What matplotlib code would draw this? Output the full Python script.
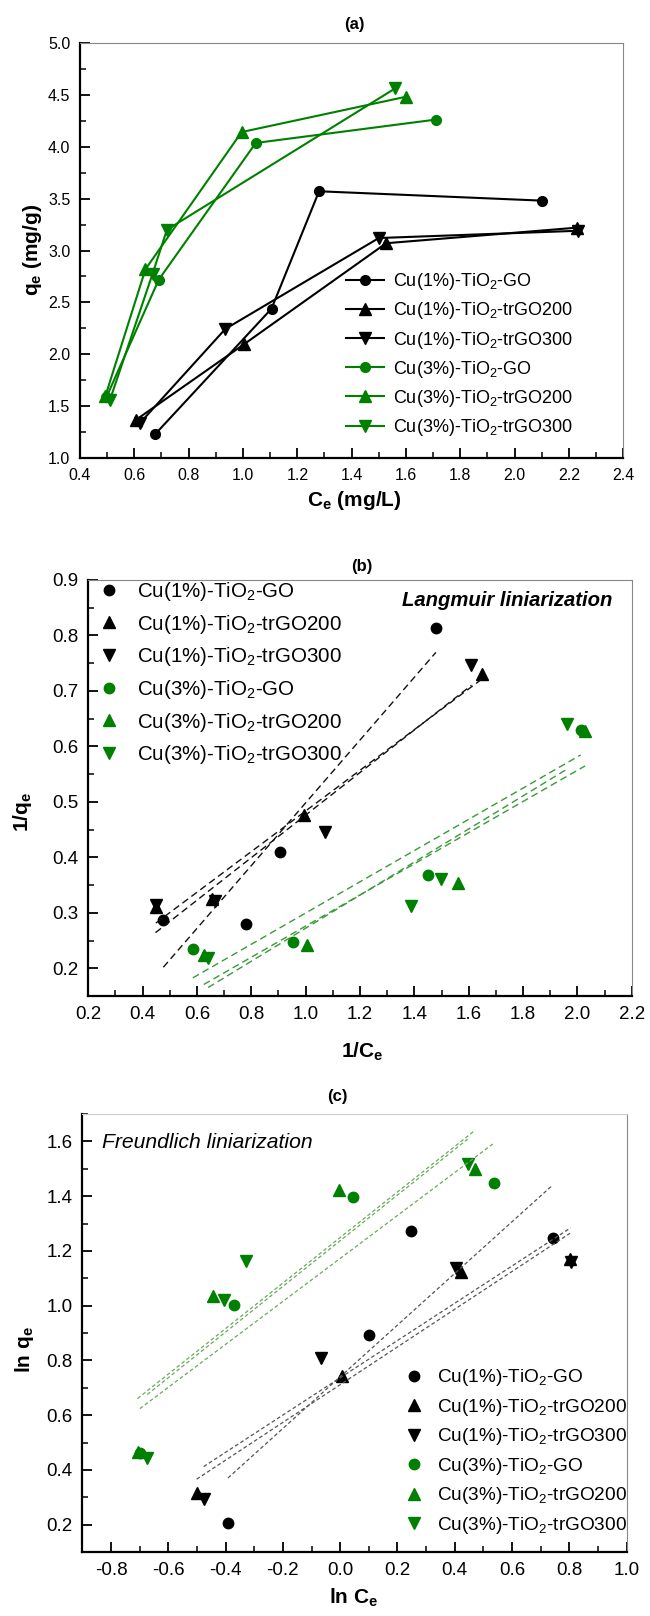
import numpy as np
import matplotlib
matplotlib.use("Agg")
import matplotlib.pyplot as plt
from matplotlib.ticker import MultipleLocator

# fonts: Arial-like text, subscripts through mathtext in the same family
plt.rcParams['font.family'] = ['Liberation Sans', 'DejaVu Sans']
plt.rcParams['mathtext.fontset'] = 'custom'
plt.rcParams['mathtext.rm'] = 'Liberation Sans'
plt.rcParams['mathtext.it'] = 'Liberation Sans:italic'
plt.rcParams['mathtext.bf'] = 'Liberation Sans:bold'

# ---------------------------------------------------------------- data
labels = ['Cu(1%)-TiO$_2$-GO', 'Cu(1%)-TiO$_2$-trGO200', 'Cu(1%)-TiO$_2$-trGO300',
          'Cu(3%)-TiO$_2$-GO', 'Cu(3%)-TiO$_2$-trGO200', 'Cu(3%)-TiO$_2$-trGO300']

# equilibrium concentration Ce (mg/L) and uptake qe (mg/g)
ce_cu1_go = [0.676, 1.105, 1.28, 2.10]
qe_cu1_go = [1.23, 2.44, 3.57, 3.48]
ce_cu1_trgo200 = [0.606, 1.005, 1.527, 2.23]
qe_cu1_trgo200 = [1.37, 2.10, 3.07, 3.22]
ce_cu1_trgo300 = [0.621, 0.935, 1.50, 2.235]
qe_cu1_trgo300 = [1.34, 2.245, 3.12, 3.19]
ce_cu3_go = [0.497, 0.69, 1.047, 1.71]
qe_cu3_go = [1.587, 2.72, 4.035, 4.26]
ce_cu3_trgo200 = [0.493, 0.641, 0.995, 1.60]
qe_cu3_trgo200 = [1.595, 2.82, 4.14, 4.48]
ce_cu3_trgo300 = [0.51, 0.667, 0.72, 1.56]
qe_cu3_trgo300 = [1.56, 2.775, 3.20, 4.56]

ce_all = [ce_cu1_go, ce_cu1_trgo200, ce_cu1_trgo300, ce_cu3_go, ce_cu3_trgo200, ce_cu3_trgo300]
qe_all = [qe_cu1_go, qe_cu1_trgo200, qe_cu1_trgo300, qe_cu3_go, qe_cu3_trgo200, qe_cu3_trgo300]

# ---------------------------------------------------------------- styles
colors = ['black', 'black', 'black', '#008000', '#008000', '#008000']
markers = ['o', '^', 'v', 'o', '^', 'v']
msizes = [7, 8, 8, 7, 8, 8]
fit_colors_b = ['#111111'] * 3 + ['#3a9a3a'] * 3
fit_colors_c = ['#555555'] * 3 + ['#6aaa5a'] * 3

W, H = 650, 1616
fig = plt.figure(figsize=(W / 100, H / 100), dpi=100)


def px(x, y):                       # pixel position -> figure fraction
    return x / W, 1 - y / H


def axes_from_px(left, top, right, bottom):
    return fig.add_axes([left / W, 1 - bottom / H, (right - left) / W, (bottom - top) / H])


def style_axes(ax, fs):
    for s in ['left', 'bottom']:
        ax.spines[s].set_linewidth(1.6)
    for s in ['top', 'right']:
        ax.spines[s].set_linewidth(0.8)
        ax.spines[s].set_color('#888888')
    ax.tick_params(which='major', direction='in', length=7, width=1.3, labelsize=fs, pad=7)
    ax.tick_params(which='minor', direction='in', length=4.5, width=1.1)
    ax.xaxis.set_major_formatter(lambda v, p: f'{v:.1f}')
    ax.yaxis.set_major_formatter(lambda v, p: f'{v:.1f}')


# ---------------------------------------------------------------- (a) isotherms
ax = axes_from_px(80, 42.7, 623.3, 458.3)
for c, q, lab, col, m, ms in zip(ce_all, qe_all, labels, colors, markers, msizes):
    ax.plot(c, q, color=col, marker=m, ms=ms, lw=1.5, label=lab)
ax.set_xlim(0.4, 2.4)
ax.set_ylim(1.0, 5.0)
ax.xaxis.set_major_locator(MultipleLocator(0.2))
ax.xaxis.set_minor_locator(MultipleLocator(0.1))
ax.yaxis.set_major_locator(MultipleLocator(0.5))
ax.yaxis.set_minor_locator(MultipleLocator(0.25))
style_axes(ax, 11.5)
ax.legend(loc='upper left', bbox_to_anchor=(0.49, 0.45), frameon=False, fontsize=13,
          handlelength=2.1, handletextpad=0.5, labelspacing=0.45, borderpad=0, borderaxespad=0)
fig.text(*px(354, 24), '(a)', ha='center', va='center', fontsize=12, fontweight='bold')
fig.text(*px(354, 500), r'C$_\mathbf{e}$ (mg/L)', ha='center', va='center', fontsize=15, fontweight='bold')
fig.text(*px(33, 250), r'q$_\mathbf{e}$ (mg/g)', ha='center', va='center', rotation=90,
         fontsize=15, fontweight='bold')

# ---------------------------------------------------------------- (b) Langmuir
ax = axes_from_px(88.3, 580, 631.7, 996)
for c, q, lab, col, m, ms in zip(ce_all, qe_all, labels, colors, markers, msizes):
    ax.plot(1 / np.array(c), 1 / np.array(q), ls='none', color=col, marker=m, ms=ms + 0.5, label=lab)
for c, q, fc in zip(ce_all, qe_all, fit_colors_b):      # linear fits over each series range
    x = 1 / np.array(c)
    y = 1 / np.array(q)
    k, b = np.polyfit(x, y, 1)
    xx = np.array([x.min(), x.max()])
    ax.plot(xx, k * xx + b, ls=(0, (5, 3)), lw=1.0, color=fc)
ax.set_xlim(0.2, 2.2)
ax.set_ylim(0.15, 0.9)
ax.xaxis.set_major_locator(MultipleLocator(0.2))
ax.xaxis.set_minor_locator(MultipleLocator(0.1))
ax.yaxis.set_major_locator(MultipleLocator(0.1))
ax.yaxis.set_minor_locator(MultipleLocator(0.05))
style_axes(ax, 13.5)
ax.legend(loc='upper left', bbox_to_anchor=(0.02, 1.0), frameon=False, fontsize=14.8,
          handlelength=1.0, handletextpad=0.85, labelspacing=0.47, borderpad=0, borderaxespad=0)
fig.text(*px(612, 600), 'Langmuir liniarization', ha='right', va='center', fontsize=14.6,
         fontweight='bold', fontstyle='italic')
fig.text(*px(362, 566), '(b)', ha='center', va='center', fontsize=12, fontweight='bold')
fig.text(*px(362, 1052), r'1/C$_\mathbf{e}$', ha='center', va='center', fontsize=15, fontweight='bold')
fig.text(*px(23, 812), r'1/q$_\mathbf{e}$', ha='center', va='center', rotation=90,
         fontsize=15, fontweight='bold')

# ---------------------------------------------------------------- (c) Freundlich
ax = axes_from_px(82.3, 1114, 626.7, 1552)
for c, q, lab, col, m, ms in zip(ce_all, qe_all, labels, colors, markers, msizes):
    ax.plot(np.log(c), np.log(q), ls='none', color=col, marker=m, ms=ms + 0.5, label=lab)
for c, q, fc in zip(ce_all, qe_all, fit_colors_c):
    x = np.log(c)
    y = np.log(q)
    k, b = np.polyfit(x, y, 1)
    xx = np.array([x.min(), x.max()])
    ax.plot(xx, k * xx + b, ls=(0, (3, 2)), lw=0.9, color=fc)
ax.set_xlim(-0.9, 1.0)
ax.set_ylim(0.1, 1.7)
ax.xaxis.set_major_locator(MultipleLocator(0.2))
ax.xaxis.set_minor_locator(MultipleLocator(0.1))
ax.yaxis.set_major_locator(MultipleLocator(0.2))
ax.yaxis.set_minor_locator(MultipleLocator(0.1))
style_axes(ax, 13.5)
ax.spines['top'].set_color('#cccccc')
ax.legend(loc='upper left', bbox_to_anchor=(0.592, 0.422), frameon=False, fontsize=13.7,
          handlelength=1.0, handletextpad=0.7, labelspacing=0.45, borderpad=0, borderaxespad=0)
fig.text(*px(102, 1142), 'Freundlich liniarization', ha='left', va='center', fontsize=15.2,
         fontstyle='italic')
fig.text(*px(337, 1097), '(c)', ha='center', va='center', fontsize=12, fontweight='bold')
fig.text(*px(354, 1598), r'ln C$_\mathbf{e}$', ha='center', va='center', fontsize=15, fontweight='bold')
fig.text(*px(25, 1349), r'ln q$_\mathbf{e}$', ha='center', va='center', rotation=90,
         fontsize=15, fontweight='bold')

fig.savefig('out.png', dpi=100)
